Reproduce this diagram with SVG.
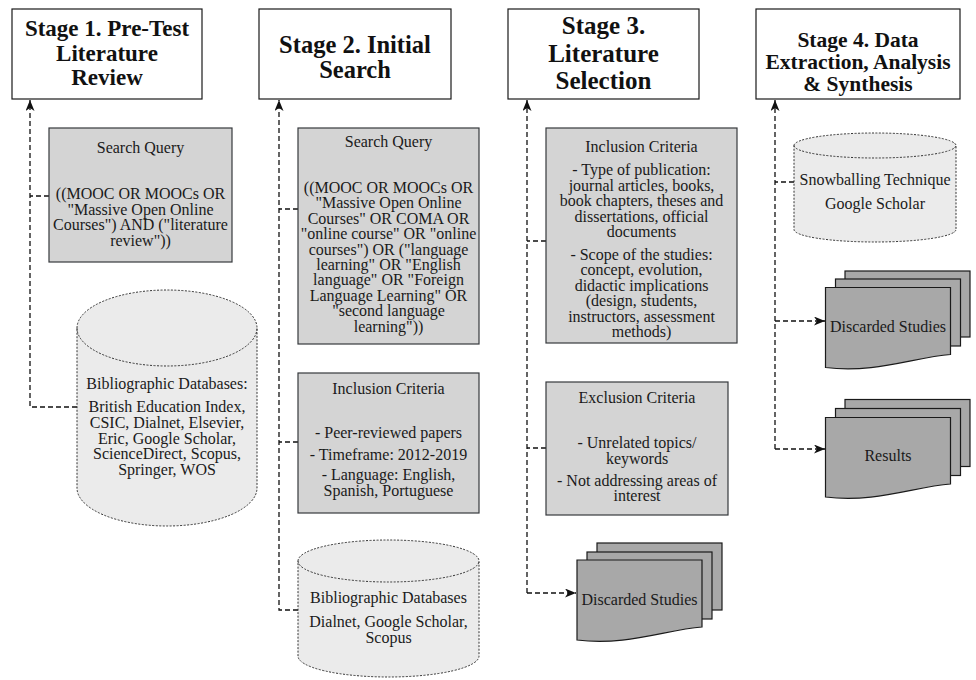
<svg xmlns="http://www.w3.org/2000/svg" width="976" height="680" viewBox="0 0 976 680">
<defs>
<style>
.hdr{fill:#fff;stroke:#1a1a1a;stroke-width:1.2}
.ht{font-family:"Liberation Serif","Times New Roman",serif;font-weight:bold;fill:#111;text-anchor:middle}
.box{fill:#d4d4d4;stroke:#36393d;stroke-width:1.2}
.cyl{fill:#ebebeb;stroke:#333;stroke-width:1;stroke-dasharray:2 1.5}
.cap{fill:none;stroke:#333;stroke-width:1;stroke-dasharray:2 1.5}
.doc{fill:#a8a8a8;stroke:#1a1a1a;stroke-width:1.2}
.t{font-family:"Liberation Serif","Times New Roman",serif;font-size:16px;fill:#1a1a1a;text-anchor:middle}
.con{fill:none;stroke:#111;stroke-width:1.3;stroke-dasharray:5 3}
</style>
<marker id="arr" markerUnits="userSpaceOnUse" markerWidth="12" markerHeight="10" refX="11" refY="4.5" orient="auto">
<path d="M0,0 L11,4.5 L0,9 L3,4.5 Z" fill="#111" stroke="none"/>
</marker>
</defs>
<rect width="976" height="680" fill="#fff"/>

<g id="connectors">
<path class="con" d="M77,407 H30 V100" marker-end="url(#arr)"/>
<path class="con" d="M49,196 H30"/>
<path class="con" d="M298,610 H279 V100" marker-end="url(#arr)"/>
<path class="con" d="M298,209 H279"/>
<path class="con" d="M298,442 H279"/>
<path class="con" d="M527,593 V100" marker-end="url(#arr)"/>
<path class="con" d="M527,593 H576" marker-end="url(#arr)"/>
<path class="con" d="M546,241 H527"/>
<path class="con" d="M546,448 H527"/>
<path class="con" d="M775,449 V100" marker-end="url(#arr)"/>
<path class="con" d="M775,449 H825" marker-end="url(#arr)"/>
<path class="con" d="M775,321 H825" marker-end="url(#arr)"/>
<path class="con" d="M794,182 H775"/>
</g>

<g id="stage1">
<rect class="hdr" x="12" y="9" width="190" height="90"/>
<text class="ht" font-size="23"><tspan x="107" y="36">Stage 1. Pre-Test</tspan><tspan x="107" y="61">Literature</tspan><tspan x="107" y="85">Review</tspan></text>
</g>
<g id="s1-query">
<rect class="box" x="49" y="128" width="183" height="134"/>
<text class="t"><tspan x="140.5" y="153">Search Query</tspan><tspan x="140.5" y="199">((MOOC OR MOOCs OR</tspan><tspan x="140.5" y="214.7">"Massive Open Online</tspan><tspan x="140.5" y="230.4">Courses") AND ("literature</tspan><tspan x="140.5" y="246">review"))</tspan></text>
</g>
<g id="s1-db">
<path class="cyl" d="M77,328 A90,38 0 0 1 257,328 V488 A90,38 0 0 1 77,488 Z"/>
<path class="cap" d="M77,328 A90,38 0 0 0 257,328"/>
<text class="t"><tspan x="167" y="389">Bibliographic Databases:</tspan><tspan x="167" y="412">British Education Index,</tspan><tspan x="167" y="428">CSIC, Dialnet, Elsevier,</tspan><tspan x="167" y="443.5">Eric, Google Scholar,</tspan><tspan x="167" y="459">ScienceDirect, Scopus,</tspan><tspan x="167" y="474.5">Springer, WOS</tspan></text>
</g>

<g id="stage2">
<rect class="hdr" x="259" y="9" width="192" height="90"/>
<text class="ht" font-size="24.5"><tspan x="355" y="53">Stage 2. Initial</tspan><tspan x="355" y="77.5">Search</tspan></text>
</g>
<g id="s2-query">
<rect class="box" x="298" y="128" width="181" height="216"/>
<text class="t"><tspan x="388.5" y="146.7">Search Query</tspan><tspan x="388.5" y="192.7">((MOOC OR MOOCs OR</tspan><tspan x="388.5" y="208.2">"Massive Open Online</tspan><tspan x="388.5" y="223.6">Courses" OR COMA OR</tspan><tspan x="388.5" y="239.1">"online course" OR "online</tspan><tspan x="388.5" y="254.5">courses") OR ("language</tspan><tspan x="388.5" y="270">learning" OR "English</tspan><tspan x="388.5" y="285.4">language" OR "Foreign</tspan><tspan x="388.5" y="300.9">Language Learning" OR</tspan><tspan x="388.5" y="316.3">"second language</tspan><tspan x="388.5" y="331.8">learning"))</tspan></text>
</g>
<g id="s2-inclusion">
<rect class="box" x="298" y="373" width="181" height="140"/>
<text class="t"><tspan x="388.5" y="394">Inclusion Criteria</tspan><tspan x="388.5" y="438.3">- Peer-reviewed papers</tspan><tspan x="388.5" y="460">- Timeframe: 2012-2019</tspan><tspan x="388.5" y="480">- Language: English,</tspan><tspan x="388.5" y="496">Spanish, Portuguese</tspan></text>
</g>
<g id="s2-db">
<path class="cyl" d="M298,561 A90.5,21 0 0 1 479,561 V656 A90.5,21 0 0 1 298,656 Z"/>
<path class="cap" d="M298,561 A90.5,21 0 0 0 479,561"/>
<text class="t"><tspan x="388.5" y="603.3">Bibliographic Databases</tspan><tspan x="388.5" y="627.3">Dialnet, Google Scholar,</tspan><tspan x="388.5" y="642.7">Scopus</tspan></text>
</g>

<g id="stage3">
<rect class="hdr" x="508" y="9" width="191" height="90"/>
<text class="ht" font-size="25"><tspan x="603.5" y="34">Stage 3.</tspan><tspan x="603.5" y="62">Literature</tspan><tspan x="603.5" y="89">Selection</tspan></text>
</g>
<g id="s3-inclusion">
<rect class="box" x="546" y="128" width="191" height="215"/>
<text class="t"><tspan x="641.5" y="151.7">Inclusion Criteria</tspan><tspan x="641.5" y="175">- Type of publication:</tspan><tspan x="641.5" y="190.7">journal articles, books,</tspan><tspan x="641.5" y="206.3">book chapters, theses and</tspan><tspan x="641.5" y="221.7">dissertations, official</tspan><tspan x="641.5" y="237.3">documents</tspan><tspan x="641.5" y="260">- Scope of the studies:</tspan><tspan x="641.5" y="275.4">concept, evolution,</tspan><tspan x="641.5" y="290.8">didactic implications</tspan><tspan x="641.5" y="306.3">(design, students,</tspan><tspan x="641.5" y="321.7">instructors, assessment</tspan><tspan x="641.5" y="337.2">methods)</tspan></text>
</g>
<g id="s3-exclusion">
<rect class="box" x="546" y="382" width="182" height="133"/>
<text class="t"><tspan x="637" y="403.3">Exclusion Criteria</tspan><tspan x="637" y="448">- Unrelated topics/</tspan><tspan x="637" y="463.5">keywords</tspan><tspan x="637" y="485.5">- Not addressing areas of</tspan><tspan x="637" y="501">interest</tspan></text>
</g>
<g id="s3-discarded">
<rect class="doc" x="597" y="543" width="125" height="67"/>
<rect class="doc" x="587" y="552" width="125" height="67"/>
<path class="doc" d="M577,560 H702 V627 C664.5,630 627,646 577,640 Z"/>
<text class="t" x="639.5" y="605">Discarded Studies</text>
</g>

<g id="stage4">
<rect class="hdr" x="756" y="9" width="204" height="90"/>
<text class="ht" font-size="21.5"><tspan x="858" y="47">Stage 4. Data</tspan><tspan x="858" y="69">Extraction, Analysis</tspan><tspan x="858" y="91">&amp; Synthesis</tspan></text>
</g>
<g id="s4-snowball">
<path class="cyl" d="M794,145.5 A81,12.5 0 0 1 956,145.5 V229.5 A81,12.5 0 0 1 794,229.5 Z"/>
<path class="cap" d="M794,145.5 A81,12.5 0 0 0 956,145.5"/>
<text class="t"><tspan x="875" y="185">Snowballing Technique</tspan><tspan x="875" y="209">Google Scholar</tspan></text>
</g>
<g id="s4-discarded">
<rect class="doc" x="845" y="271" width="125" height="66"/>
<rect class="doc" x="835.5" y="279" width="125" height="67"/>
<path class="doc" d="M825.5,287.5 H950.5 V354.5 C913,357.5 875.5,373.5 825.5,367.5 Z"/>
<text class="t" x="888" y="331.7">Discarded Studies</text>
</g>
<g id="s4-results">
<rect class="doc" x="845" y="399.5" width="125" height="67"/>
<rect class="doc" x="835.5" y="408.5" width="125" height="67"/>
<path class="doc" d="M825.5,417.5 H950.5 V484 C913,487 875.5,503 825.5,497 Z"/>
<text class="t" x="888" y="461">Results</text>
</g>
</svg>
